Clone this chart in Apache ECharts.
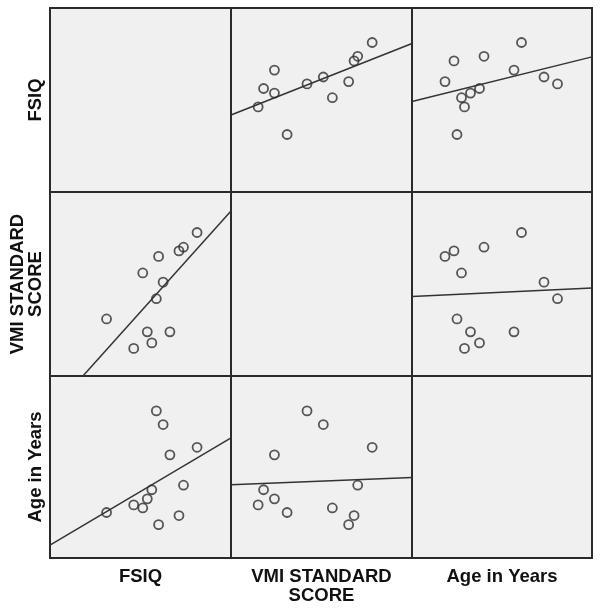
<!DOCTYPE html>
<html>
<head>
<meta charset="utf-8">
<style>
  html, body { margin: 0; padding: 0; background: #fff; }
  #chart { width: 602px; height: 610px; }
</style>
<script src="https://cdn.jsdelivr.net/npm/echarts@6/dist/echarts.min.js"></script>
</head>
<body>
<div id="chart"></div>
<script>
// variable names (row labels top->bottom, column labels left->right)
const varNames = ['FSIQ', 'VMI STANDARD\nSCORE', 'Age in Years']

// one value per subject, same order in each array
const fsiq = [97, 105, 113, 103, 85, 107, 110, 101, 108, 117, 119, 125]
const vmi = [65, 68, 74, 74, 81, 92, 101, 106, 115, 118, 120, 128]
const age = [7.5, 8.5, 10.8, 7.9, 7.0, 13.7, 12.8, 7.3, 6.2, 6.8, 8.8, 11.3]

// axis ranges used for every cell of a variable
const axisMin = [60, 50, 4]
const axisMax = [140, 150, 16]

const vars = [fsiq, vmi, age]

// cell geometry
const colLeft = [50, 231, 412]
const colWidth = [181, 181, 180]
const rowTop = [8, 192, 376]
const rowHeight = [184, 184, 182]

function fitLine(xs, ys) {
  const n = xs.length
  const mx = xs.reduce((a, b) => a + b, 0) / n
  const my = ys.reduce((a, b) => a + b, 0) / n
  let sxy = 0
  let sxx = 0
  for (let k = 0; k < n; k++) {
    sxy += (xs[k] - mx) * (ys[k] - my)
    sxx += (xs[k] - mx) * (xs[k] - mx)
  }
  const b = sxy / sxx
  return { a: my - b * mx, b }
}

const grid = []
const xAxis = []
const yAxis = []
const series = []

for (let i = 0; i < 3; i++) {
  for (let j = 0; j < 3; j++) {
    const idx = i * 3 + j
    grid.push({
      left: colLeft[j],
      top: rowTop[i],
      width: colWidth[j],
      height: rowHeight[i],
      show: true,
      backgroundColor: '#f0f0f0',
      borderColor: '#2a2a2a',
      borderWidth: 2
    })
    xAxis.push({
      gridIndex: idx, type: 'value', min: axisMin[j], max: axisMax[j],
      axisLine: { show: false }, axisTick: { show: false },
      axisLabel: { show: false }, splitLine: { show: false }
    })
    yAxis.push({
      gridIndex: idx, type: 'value', min: axisMin[i], max: axisMax[i],
      axisLine: { show: false }, axisTick: { show: false },
      axisLabel: { show: false }, splitLine: { show: false }
    })
    if (i === j) continue

    const xs = vars[j]
    const ys = vars[i]
    series.push({
      type: 'scatter',
      xAxisIndex: idx,
      yAxisIndex: idx,
      symbol: 'circle',
      symbolSize: 9,
      itemStyle: { color: 'transparent', borderColor: '#2e2e2e', borderWidth: 1.8 },
      data: xs.map((x, k) => [x, ys[k]]),
      silent: true
    })
    const fit = fitLine(xs, ys)
    const x0 = axisMin[j]
    const x1 = axisMax[j]
    series.push({
      type: 'line',
      xAxisIndex: idx,
      yAxisIndex: idx,
      clip: true,
      showSymbol: false,
      silent: true,
      lineStyle: { color: '#333', width: 1.5 },
      data: [[x0, fit.a + fit.b * x0], [x1, fit.a + fit.b * x1]]
    })
  }
}

const labelFont = 'bold 18.5px "Liberation Sans", Arial, sans-serif'
const graphic = []
for (let k = 0; k < 3; k++) {
  // column labels under the matrix
  graphic.push({
    type: 'text',
    x: colLeft[k] + colWidth[k] / 2,
    y: 567,
    style: {
      text: varNames[k],
      font: labelFont,
      fill: '#111',
      align: 'center',
      verticalAlign: 'top',
      lineHeight: 19
    }
  })
  // row labels, rotated; last line sits next to the matrix
  graphic.push({
    type: 'text',
    x: 45,
    y: rowTop[k] + rowHeight[k] / 2,
    rotation: Math.PI / 2,
    style: {
      text: varNames[k],
      font: labelFont,
      fill: '#111',
      align: 'center',
      verticalAlign: 'bottom',
      lineHeight: 18
    }
  })
}

const chart = echarts.init(document.getElementById('chart'))
chart.setOption({
  animation: false,
  grid,
  xAxis,
  yAxis,
  series,
  graphic
})
</script>
</body>
</html>
